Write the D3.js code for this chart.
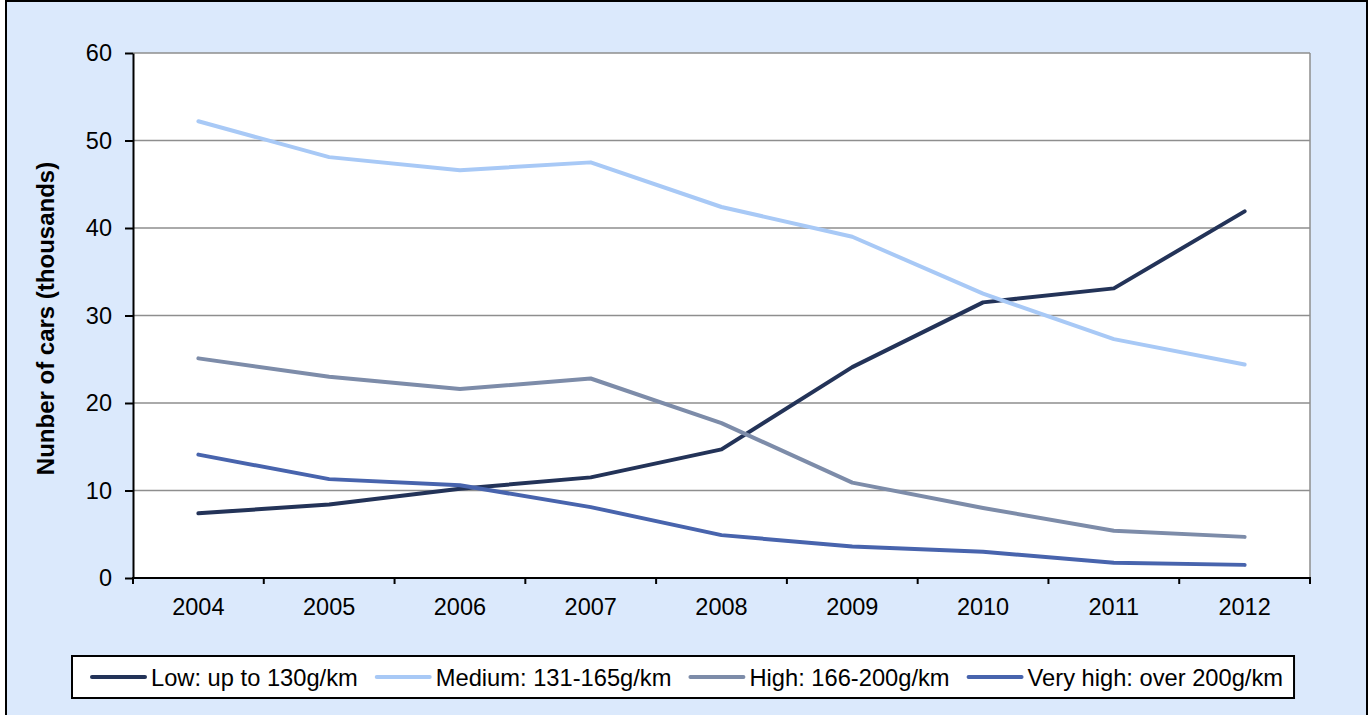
<!DOCTYPE html>
<html>
<head>
<meta charset="utf-8">
<script src="https://cdn.jsdelivr.net/npm/d3@7"></script>
<style>
  html, body { margin: 0; padding: 0; background: #ffffff; }
  svg { display: block; font-family: "Liberation Sans", Arial, sans-serif; }
</style>
</head>
<body>
<svg id="chart" width="1370" height="715"></svg>
<script>
// Cars registered by CO2 emission band, thousands
const years = ["2004", "2005", "2006", "2007", "2008", "2009", "2010", "2011", "2012"];
const low      = [7.4, 8.4, 10.2, 11.5, 14.7, 24.1, 31.5, 33.1, 41.9];
const medium   = [52.2, 48.1, 46.6, 47.5, 42.4, 39.0, 32.5, 27.3, 24.4];
const high     = [25.1, 23.0, 21.6, 22.8, 17.7, 10.9, 8.0, 5.4, 4.7];
const veryHigh = [14.1, 11.3, 10.6, 8.1, 4.9, 3.6, 3.0, 1.75, 1.5];
const yTicks   = [0, 10, 20, 30, 40, 50, 60];

const seriesNames  = ["Low: up to 130g/km", "Medium: 131-165g/km", "High: 166-200g/km", "Very high: over 200g/km"];
const seriesValues = [low, medium, high, veryHigh];
const seriesColors = ["#233358", "#a8c9f6", "#7d8ca9", "#4864ad"];

const svg = d3.select("#chart");

// outer frame
svg.append("rect")
  .attr("x", 6).attr("y", 1).attr("width", 1361).attr("height", 740)
  .attr("fill", "#dbe9fc").attr("stroke", "#000").attr("stroke-width", 2);

const plot = { left: 133, top: 53, right: 1310, bottom: 578 };

const x = d3.scaleBand().domain(years).range([plot.left, plot.right]).padding(0);
const y = d3.scaleLinear().domain([0, 60]).range([plot.bottom, plot.top]);

// plot area
svg.append("rect")
  .attr("x", plot.left).attr("y", plot.top)
  .attr("width", plot.right - plot.left).attr("height", plot.bottom - plot.top)
  .attr("fill", "#ffffff");

// horizontal gridlines
svg.append("g").selectAll("line")
  .data(yTicks.filter(d => d > 0))
  .join("line")
  .attr("x1", plot.left).attr("x2", plot.right)
  .attr("y1", d => y(d)).attr("y2", d => y(d))
  .attr("stroke", "#8e8e8e").attr("stroke-width", 1.5);

// right border of plot area
svg.append("line")
  .attr("x1", plot.right).attr("x2", plot.right)
  .attr("y1", plot.top).attr("y2", plot.bottom)
  .attr("stroke", "#8e8e8e").attr("stroke-width", 1.5);

// y axis
const yAxis = svg.append("g")
  .attr("transform", `translate(${plot.left},0)`)
  .call(d3.axisLeft(y).tickValues(yTicks).tickSize(8).tickPadding(13).tickSizeOuter(0));
yAxis.select(".domain").attr("stroke", "#000").attr("stroke-width", 2);
yAxis.selectAll(".tick line").attr("stroke", "#000").attr("stroke-width", 2);
yAxis.selectAll(".tick text")
  .attr("font-size", 23.5).attr("fill", "#000")
  .attr("font-family", "Liberation Sans, Arial, sans-serif");

// x axis: ticks sit on category boundaries, labels at category centres
const xAxisG = svg.append("g").attr("transform", `translate(0,${plot.bottom})`);
xAxisG.append("line")
  .attr("x1", plot.left - 1).attr("x2", plot.right + 1)
  .attr("y1", 0).attr("y2", 0)
  .attr("stroke", "#000").attr("stroke-width", 2);
const boundaries = years.map(d => x(d)).concat([x(years[years.length - 1]) + x.bandwidth()]);
xAxisG.selectAll("line.tk")
  .data(boundaries)
  .join("line").attr("class", "tk")
  .attr("x1", d => d).attr("x2", d => d)
  .attr("y1", 0).attr("y2", 6)
  .attr("stroke", "#000").attr("stroke-width", 2);
xAxisG.selectAll("text")
  .data(years)
  .join("text")
  .attr("x", d => x(d) + x.bandwidth() / 2)
  .attr("y", 37)
  .attr("text-anchor", "middle")
  .attr("font-size", 23.5)
  .attr("fill", "#000")
  .text(d => d);

// y axis title
svg.append("text")
  .attr("transform", `translate(54,${(plot.top + plot.bottom) / 2 + 3}) rotate(-90)`)
  .attr("text-anchor", "middle")
  .attr("font-size", 24)
  .attr("font-weight", "bold")
  .attr("fill", "#000")
  .text("Nunber of cars (thousands)");

// series lines
const line = d3.line()
  .x((d, i) => x(years[i]) + x.bandwidth() / 2)
  .y(d => y(d));

svg.append("g").selectAll("path")
  .data(seriesValues)
  .join("path")
  .attr("d", d => line(d))
  .attr("fill", "none")
  .attr("stroke", (d, i) => seriesColors[i])
  .attr("stroke-width", 4)
  .attr("stroke-linejoin", "round")
  .attr("stroke-linecap", "round");

// legend
const legend = svg.append("g");
const legBox = legend.append("rect")
  .attr("fill", "#fff").attr("stroke", "#000").attr("stroke-width", 2);
const legY = 677;
let cursor = 92;
seriesNames.forEach((name, i) => {
  legend.append("line")
    .attr("x1", cursor).attr("x2", cursor + 53)
    .attr("y1", legY).attr("y2", legY)
    .attr("stroke", seriesColors[i]).attr("stroke-width", 4)
    .attr("stroke-linecap", "round");
  const t = legend.append("text")
    .attr("x", cursor + 59).attr("y", legY + 8.5)
    .attr("font-size", 23.7).attr("fill", "#000")
    .text(name);
  cursor = cursor + 59 + t.node().getComputedTextLength() + 19;
});
legBox.attr("x", 72).attr("y", 656).attr("width", cursor - 19 + 11 - 72).attr("height", 42);
</script>
</body>
</html>
